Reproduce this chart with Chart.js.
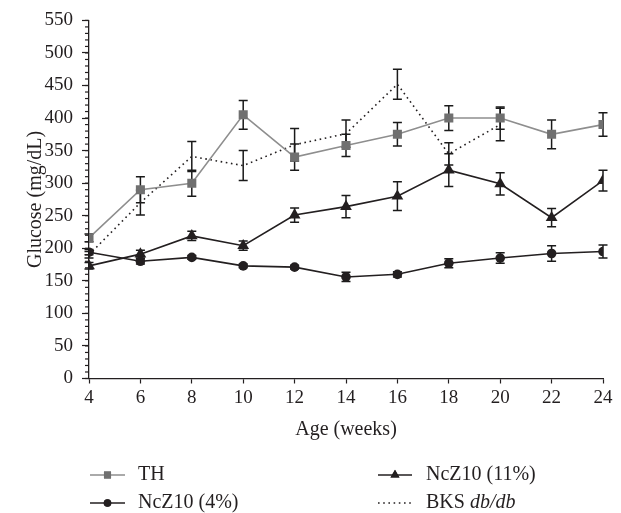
<!DOCTYPE html>
<html>
<head>
<meta charset="utf-8">
<script src="https://cdn.jsdelivr.net/npm/chart.js@4/dist/chart.umd.min.js"></script>
<style>
  body { margin: 0; background: #fff; }
  #wrap { width: 621px; height: 513px; }
</style>
</head>
<body>
<div id="wrap"><canvas id="grafico" width="621" height="513"></canvas></div>
<script>
// semanas de edad
const semanas = [4, 6, 8, 10, 12, 14, 16, 18, 20, 22, 24];

// glucosa media (mg/dL) y su error por grupo
const th = [216, 290, 300, 405, 340, 358, 375, 400, 400, 375, 390];
const thErr = [6, 20, 20, 22, 20, 17, 18, 19, 17, 22, 18];

const ncz4 = [194, 180, 186, 173, 171, 156, 160, 177, 185, 192, 195];
const ncz4Err = [4, 4, 3, 3, 3, 7, 4, 7, 8, 12, 10];

const ncz11 = [173, 191, 219, 204, 251, 264, 280, 320, 299, 247, 304];
const ncz11Err = [5, 6, 7, 7, 11, 17, 22, 25, 17, 14, 16];

const bks = [190, 270, 341, 327, 359, 376, 452, 345, 390, null, null];
const bksErr = [5, 19, 23, 23, 25, 21, 23, 17, 25, null, null];

const yTicks = [0, 50, 100, 150, 200, 250, 300, 350, 400, 450, 500, 550];

const fuente = 'Liberation Serif';
const negro = '#231f20';

const puntos = (valores) => semanas.map((s, i) => ({ x: s, y: valores[i] }));

const series = [
  { label: 'TH', data: puntos(th), err: thErr, borderColor: '#8e8e8e', backgroundColor: '#707070',
    pointStyle: 'rect', pointRadius: 6.4, borderWidth: 1.6, pointBorderWidth: 0 },
  { label: 'NcZ10 (4%)', data: puntos(ncz4), err: ncz4Err, borderColor: negro, backgroundColor: negro,
    pointStyle: 'circle', pointRadius: 4.8, borderWidth: 1.6, pointBorderWidth: 0 },
  { label: 'NcZ10 (11%)', data: puntos(ncz11), err: ncz11Err, borderColor: negro, backgroundColor: negro,
    pointStyle: 'triangle', pointRadius: 6.8, borderWidth: 1.6, pointBorderWidth: 0 },
  { label: 'BKS db/db', data: puntos(bks), err: bksErr, borderColor: negro, backgroundColor: negro,
    pointRadius: 0, borderWidth: 1.6, borderDash: [1.6, 3.6] }
];

// barras de error dibujadas con las escalas del grafico
const barrasError = {
  id: 'barrasError',
  beforeDatasetsDraw(chart) {
    const { ctx, scales: { x, y } } = chart;
    ctx.save();
    ctx.strokeStyle = '#1a1a1a';
    ctx.lineWidth = 1.5;
    chart.data.datasets.forEach(ds => {
      ds.data.forEach((p, i) => {
        const e = ds.err[i];
        if (p.y == null || e == null) return;
        const px = x.getPixelForValue(p.x);
        const top = y.getPixelForValue(p.y + e);
        const bot = y.getPixelForValue(p.y - e);
        ctx.beginPath();
        ctx.moveTo(px, top); ctx.lineTo(px, bot);
        ctx.moveTo(px - 4.5, top); ctx.lineTo(px + 4.5, top);
        ctx.moveTo(px - 4.5, bot); ctx.lineTo(px + 4.5, bot);
        ctx.stroke();
      });
    });
    ctx.restore();
  }
};

// marcas menores del eje y cada 10
const marcasMenores = {
  id: 'marcasMenores',
  afterDraw(chart) {
    const { ctx, scales: { y }, chartArea } = chart;
    ctx.save();
    ctx.strokeStyle = negro;
    ctx.lineWidth = 1.2;
    for (let v = 0; v <= 550; v += 10) {
      const py = y.getPixelForValue(v);
      ctx.beginPath();
      ctx.moveTo(chartArea.left - 4, py);
      ctx.lineTo(chartArea.left, py);
      ctx.stroke();
    }
    ctx.restore();
  }
};

// leyenda en dos columnas
const leyenda = {
  id: 'leyenda',
  afterDraw(chart) {
    const ctx = chart.ctx;
    const ds = chart.data.datasets;
    const items = [
      { d: ds[0], x1: 90, x2: 125, tx: 138, y: 475, r: 5 },
      { d: ds[1], x1: 90, x2: 125, tx: 138, y: 503, r: 3.8 },
      { d: ds[2], x1: 378, x2: 412, tx: 426, y: 475, r: 5.2 },
      { d: ds[3], x1: 378, x2: 412, tx: 426, y: 503, r: 0 }
    ];
    ctx.save();
    items.forEach(it => {
      ctx.strokeStyle = it.d.borderColor;
      ctx.lineWidth = it.d.borderWidth;
      ctx.setLineDash(it.d.borderDash || []);
      ctx.beginPath();
      ctx.moveTo(it.x1, it.y); ctx.lineTo(it.x2, it.y);
      ctx.stroke();
      ctx.setLineDash([]);
      if (it.r > 0) {
        ctx.fillStyle = it.d.backgroundColor;
        Chart.helpers.drawPoint(ctx, { pointStyle: it.d.pointStyle, radius: it.r, borderWidth: 0, rotation: 0 },
          (it.x1 + it.x2) / 2, it.y);
        ctx.fill();
      }
      ctx.fillStyle = negro;
      ctx.textBaseline = 'middle';
      ctx.textAlign = 'left';
      if (it.d.label === 'BKS db/db') {
        ctx.font = '20px "' + fuente + '"';
        ctx.fillText('BKS ', it.tx, it.y);
        const w = ctx.measureText('BKS ').width;
        ctx.font = 'italic 20px "' + fuente + '"';
        ctx.fillText('db/db', it.tx + w, it.y);
      } else {
        ctx.font = '20px "' + fuente + '"';
        ctx.fillText(it.d.label, it.tx, it.y);
      }
    });
    ctx.restore();
  }
};

new Chart(document.getElementById('grafico'), {
  type: 'line',
  data: { datasets: series },
  plugins: [barrasError, marcasMenores, leyenda],
  options: {
    responsive: false,
    animation: false,
    layout: { padding: { left: 0, top: 20, right: 18, bottom: 71 } },
    plugins: { legend: { display: false }, tooltip: { enabled: false } },
    elements: { line: { tension: 0 } },
    scales: {
      x: {
        type: 'linear', min: 4, max: 24,
        afterBuildTicks: s => { s.ticks = semanas.map(v => ({ value: v })); },
        ticks: { color: negro, font: { family: fuente, size: 19 }, padding: 3 },
        grid: { drawOnChartArea: false, tickLength: 5, tickColor: negro, tickWidth: 1.2 },
        border: { color: negro, width: 1.3 },
        title: { display: true, text: 'Age (weeks)', color: negro, font: { family: fuente, size: 20 },
          padding: { top: 0, bottom: 0 } },
        afterFit: s => { s.height = 63.5; }
      },
      y: {
        min: 0, max: 550,
        afterBuildTicks: s => { s.ticks = yTicks.map(v => ({ value: v })); },
        ticks: { color: negro, font: { family: fuente, size: 19 }, padding: 9 },
        grid: { drawOnChartArea: false, tickLength: 7, tickColor: negro, tickWidth: 1.2 },
        border: { color: negro, width: 1.3 },
        title: { display: true, text: 'Glucose (mg/dL)', color: negro, font: { family: fuente, size: 20 },
          padding: { top: 24, bottom: 0 } },
        afterFit: s => { s.width = 89; }
      }
    }
  }
});
</script>
</body>
</html>
